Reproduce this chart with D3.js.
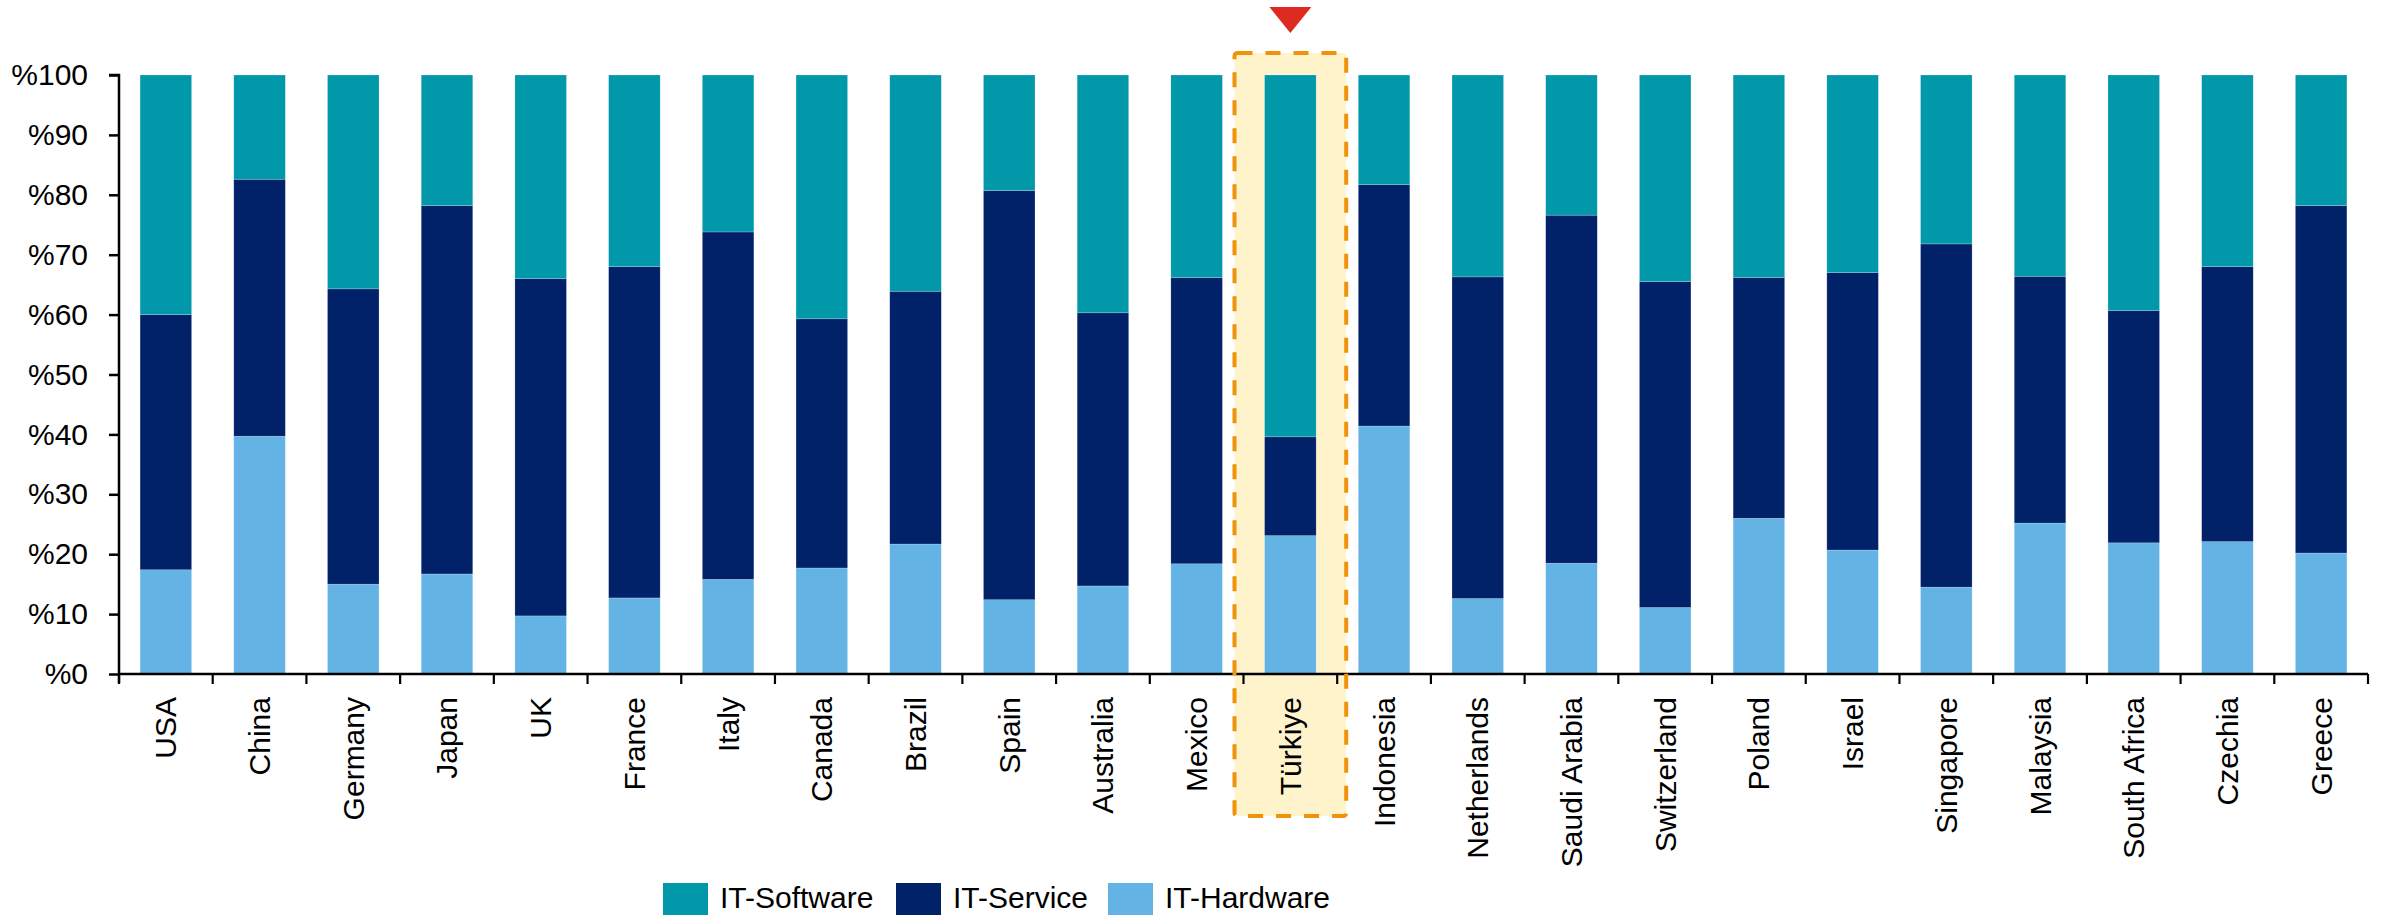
<!DOCTYPE html>
<html>
<head>
<meta charset="utf-8">
<script src="https://cdn.jsdelivr.net/npm/d3@7/dist/d3.min.js"></script>
<style>
  html, body { margin: 0; padding: 0; background: #fff; }
  svg { display: block; font-family: "Liberation Sans", Arial, sans-serif; }
</style>
</head>
<body>
<svg id="chart" width="2382" height="915"></svg>
<script>
// ---- data (shares in %) ----
const countries = ["USA","China","Germany","Japan","UK","France","Italy","Canada","Brazil","Spain","Australia","Mexico","Türkiye","Indonesia","Netherlands","Saudi Arabia","Switzerland","Poland","Israel","Singapore","Malaysia","South Africa","Czechia","Greece"];
const itHardware = [17.4,39.7,15.0,16.7,9.7,12.7,15.8,17.7,21.7,12.4,14.7,18.4,23.1,41.4,12.6,18.5,11.1,26.0,20.7,14.5,25.2,21.9,22.1,20.2];
const itService  = [42.6,42.9,49.3,61.5,56.3,55.3,58.0,41.6,42.2,68.3,45.6,47.8,16.5,40.3,53.7,58.1,54.4,40.2,46.3,57.3,41.2,38.8,45.9,58.0];
const itSoftware = [40.0,17.4,35.7,21.8,34.0,32.0,26.2,40.7,36.1,19.3,39.7,33.8,60.4,18.3,33.7,23.4,34.5,33.8,33.0,28.2,33.6,39.3,32.0,21.8];
const seriesNames = ["IT-Software","IT-Service","IT-Hardware"];
const yTicks = [0,10,20,30,40,50,60,70,80,90,100];
const highlight = "Türkiye";

(function(){
const colors = {"IT-Hardware":"#63B4E4","IT-Service":"#012169","IT-Software":"#0198AA"};

const rows = countries.map((c,i)=>({country:c,"IT-Hardware":itHardware[i],"IT-Service":itService[i],"IT-Software":itSoftware[i]}));
const stackKeys = ["IT-Hardware","IT-Service","IT-Software"];
const stacked = d3.stack().keys(stackKeys)(rows);

const svg = d3.select("#chart");
const pLeft = 119, pRight = 2368, pTop = 75, pBottom = 674;

const x = d3.scaleBand().domain(countries).range([pLeft,pRight]).paddingInner(0.45).paddingOuter(0.225);
const y = d3.scaleLinear().domain([0,100]).range([pBottom,pTop]);
const step = x.step();
const outer = step*0.225;

// highlight box fill
const hx0 = x(highlight) - outer - 9, hx1 = x(highlight) - outer + step + 9;
const hy0 = y(100) - 22, hy1 = 816;
svg.append("rect").attr("x",hx0).attr("y",hy0).attr("width",hx1-hx0).attr("height",hy1-hy0)
  .attr("rx",3).attr("fill","#FFF3CC");

// bars
svg.append("g").selectAll("g").data(stacked).join("g")
  .attr("fill",d=>colors[d.key])
  .selectAll("rect").data(d=>d).join("rect")
  .attr("x",d=>x(d.data.country))
  .attr("width",x.bandwidth())
  .attr("y",d=>y(d[1]))
  .attr("height",d=>y(d[0])-y(d[1]))
  .attr("stroke","rgba(255,255,255,0.35)").attr("stroke-width",0.6);

// y axis
const yAxis = d3.axisLeft(y).tickValues(yTicks).tickSize(10).tickPadding(21).tickFormat(d=>"%"+d);
const gy = svg.append("g").attr("transform",`translate(${pLeft},0)`).call(yAxis);
gy.select(".domain").attr("d",`M-10,${pTop}H0V${pBottom+9}`).attr("stroke","#000").attr("stroke-width",2.5);
gy.selectAll(".tick line").attr("stroke","#000").attr("stroke-width",2.5);
gy.selectAll(".tick text").attr("font-size",30).attr("fill","#000").attr("font-family","Liberation Sans, Arial, sans-serif");

// x axis line + boundary ticks
const gx = svg.append("g");
gx.append("line").attr("x1",pLeft).attr("x2",pRight).attr("y1",pBottom).attr("y2",pBottom).attr("stroke","#000").attr("stroke-width",2.5);
const bounds = countries.map(c=>x(c)-outer).concat([pRight]);
gx.selectAll("line.tk").data(bounds).join("line").attr("class","tk")
  .attr("x1",d=>d).attr("x2",d=>d).attr("y1",pBottom).attr("y2",pBottom+10)
  .attr("stroke","#000").attr("stroke-width",2.2);
gx.selectAll("text").data(countries).join("text")
  .attr("transform",d=>`translate(${x(d)+x.bandwidth()/2},${pBottom+23}) rotate(-90)`)
  .attr("text-anchor","end").attr("dy","0.35em")
  .attr("font-size",30).attr("fill","#000").text(d=>d);

// highlight dashed border
svg.append("rect").attr("x",hx0).attr("y",hy0).attr("width",hx1-hx0).attr("height",hy1-hy0)
  .attr("rx",3).attr("fill","none").attr("stroke","#F0920A").attr("stroke-width",4)
  .attr("stroke-dasharray","15,13");

// red marker triangle
const cx = x(highlight)+x.bandwidth()/2;
svg.append("path").attr("d",`M${cx-21},7L${cx+21},7L${cx},33Z`).attr("fill","#DE2B1F");

// legend
const legX = [663, 896, 1108];
const lg = svg.append("g").selectAll("g").data(seriesNames).join("g")
  .attr("transform",(d,i)=>`translate(${legX[i]},883)`);
lg.append("rect").attr("width",45).attr("height",45).attr("fill",d=>colors[d]);
lg.append("text").attr("x",57).attr("y",25).attr("font-size",30).attr("fill","#000").text(d=>d);
})();
</script>
</body>
</html>
